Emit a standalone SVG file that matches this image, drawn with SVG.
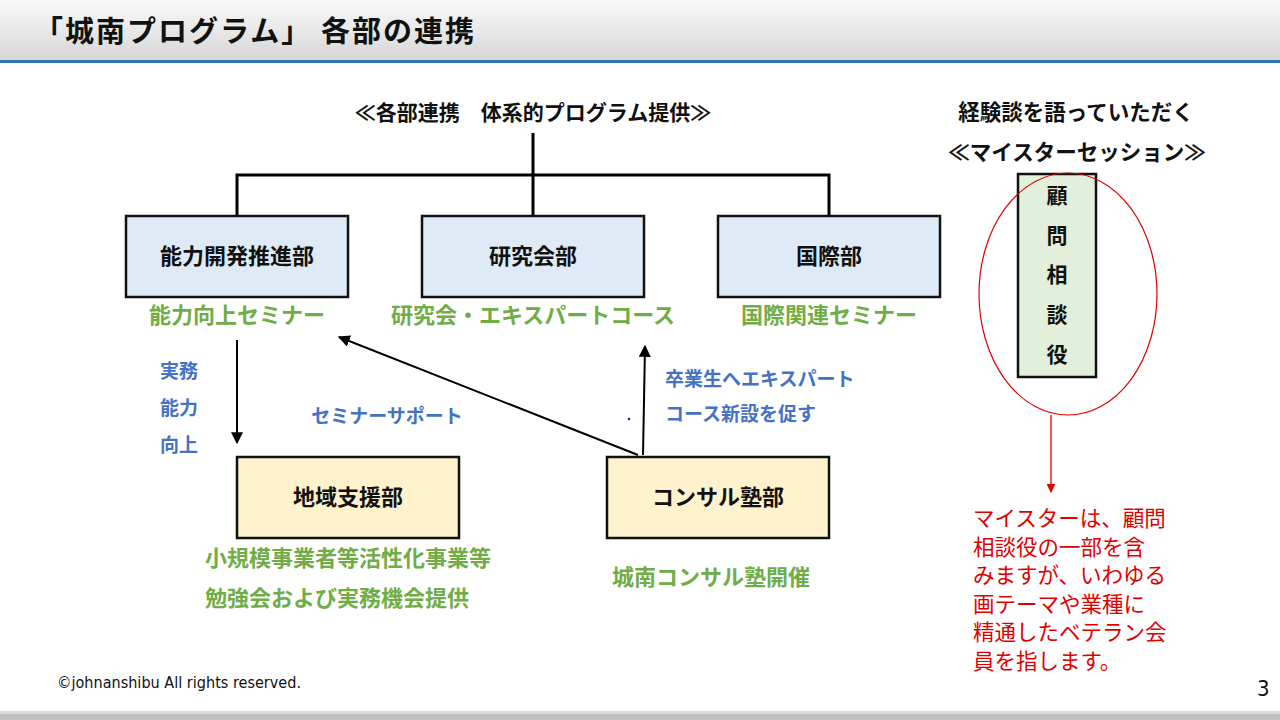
<svg xmlns="http://www.w3.org/2000/svg" width="1280" height="720" viewBox="0 0 1280 720">
<defs>
<linearGradient id="hdr" x1="0" y1="0" x2="0" y2="1">
<stop offset="0" stop-color="#FAFAFA"/>
<stop offset="1" stop-color="#D6D6D6"/>
</linearGradient>
<marker id="ab2" viewBox="0 0 10 10" refX="9" refY="5" markerWidth="12" markerHeight="12" markerUnits="userSpaceOnUse" orient="auto">
<path d="M0,0 L10,5 L0,10 z" fill="#000"/>
</marker>
<marker id="ar" viewBox="0 0 10 10" refX="9" refY="5" markerWidth="9" markerHeight="9" markerUnits="userSpaceOnUse" orient="auto">
<path d="M0,0 L10,5 L0,10 z" fill="#E00000"/>
</marker>
</defs>
<style>
text{font-family:"Noto Sans CJK JP","Noto Sans",sans-serif;}
.b{font-weight:bold;}
.blk{fill:#111;}
.grn{fill:#70AD47;font-weight:bold;font-size:22px;}
.blu{fill:#4472C4;font-weight:bold;font-size:19px;}
.red{fill:#E00000;font-size:21.5px;}
.box{stroke:#111;stroke-width:2.5;}
.blue{fill:#DEEBF7;}
.yel{fill:#FFF2CC;}
.gbox{fill:#E2EFDA;}
.ln{stroke:#000;stroke-width:3;fill:none;}
.ar{stroke:#000;stroke-width:2;fill:none;}
.lbl{font-size:22px;font-weight:bold;fill:#111;text-anchor:middle;}
.vch{font-size:21px;}
.ft{font-family:"DejaVu Sans Condensed","Liberation Sans",sans-serif;fill:#111;}
</style>
<rect width="1280" height="720" fill="#FFFFFF"/>
<rect x="0" y="0" width="1280" height="61" fill="url(#hdr)"/>
<rect x="0" y="60" width="1280" height="3" fill="#2E75B6"/>
<text x="34" y="42" font-size="29" class="b blk" textLength="440" lengthAdjust="spacing">「城南プログラム」 各部の連携</text>
<rect x="0" y="711" width="1280" height="3" fill="#D9D9D9"/>
<rect x="0" y="714" width="1280" height="6" fill="#BFBFBF"/>
<text class="ft" x="57" y="688" font-size="15" textLength="244" lengthAdjust="spacingAndGlyphs">©johnanshibu All  rights  reserved.</text>
<text class="ft" x="1257" y="696" font-size="22">3</text>

<text x="533" y="120" font-size="21" class="b blk" text-anchor="middle">≪各部連携　体系的プログラム提供≫</text>
<text x="1076" y="120" font-size="21.5" class="b blk" text-anchor="middle">経験談を語っていただく</text>
<text x="1077" y="160" font-size="21.5" class="b blk" text-anchor="middle">≪マイスターセッション≫</text>

<g id="connectors">
<path class="ln" d="M533,133 V216 M237,216 V175 H829 V216"/>
<line class="ar" x1="237" y1="340" x2="237" y2="443" marker-end="url(#ab2)"/>
<line class="ar" x1="638" y1="455" x2="339" y2="337" marker-end="url(#ab2)"/>
<line class="ar" x1="643" y1="455" x2="645" y2="346" marker-end="url(#ab2)"/>
<line x1="1051" y1="415" x2="1051" y2="492" stroke="#E00000" stroke-width="1.3" marker-end="url(#ar)"/>
</g>

<g id="n1"><rect class="box blue" x="126" y="216" width="222" height="81"/><text class="lbl" x="237" y="264">能力開発推進部</text></g>
<g id="n2"><rect class="box blue" x="422" y="216" width="222" height="81"/><text class="lbl" x="533" y="264">研究会部</text></g>
<g id="n3"><rect class="box blue" x="718" y="216" width="222" height="81"/><text class="lbl" x="829" y="264">国際部</text></g>
<g id="n4"><rect class="box yel" x="237" y="457" width="222" height="81"/><text class="lbl" x="348" y="505">地域支援部</text></g>
<g id="n5"><rect class="box yel" x="607" y="457" width="222" height="81"/><text class="lbl" x="718" y="505">コンサル塾部</text></g>
<g id="n6">
<rect class="box gbox" x="1018" y="174" width="78" height="203"/>
<text class="lbl vch" x="1057" y="203">顧</text>
<text class="lbl vch" x="1057" y="243">問</text>
<text class="lbl vch" x="1057" y="282">相</text>
<text class="lbl vch" x="1057" y="322">談</text>
<text class="lbl vch" x="1057" y="362">役</text>
</g>
<ellipse cx="1068" cy="294" rx="89" ry="121" fill="none" stroke="#E00000" stroke-width="1.2"/>

<text class="grn" x="237" y="323" text-anchor="middle">能力向上セミナー</text>
<text class="grn" x="533" y="323" text-anchor="middle">研究会・エキスパートコース</text>
<text class="grn" x="829" y="323" text-anchor="middle">国際関連セミナー</text>
<text class="grn" x="205" y="566">小規模事業者等活性化事業等</text>
<text class="grn" x="205" y="606">勉強会および実務機会提供</text>
<text class="grn" x="711" y="585" text-anchor="middle">城南コンサル塾開催</text>

<text class="blu" x="160" y="378">実務</text>
<text class="blu" x="160" y="415">能力</text>
<text class="blu" x="160" y="452">向上</text>
<text class="blu" x="387" y="423" text-anchor="middle">セミナーサポート</text>
<circle cx="629" cy="419" r="1.3" fill="#2020C0"/>
<text class="blu" x="665" y="386">卒業生へエキスパート</text>
<text class="blu" x="665" y="421">コース新設を促す</text>

<text class="red" x="973" y="526">マイスターは、顧問</text>
<text class="red" x="973" y="555">相談役の一部を含</text>
<text class="red" x="973" y="583">みますが、いわゆる</text>
<text class="red" x="973" y="612">画テーマや業種に</text>
<text class="red" x="973" y="640">精通したベテラン会</text>
<text class="red" x="973" y="669">員を指します。</text>
</svg>
